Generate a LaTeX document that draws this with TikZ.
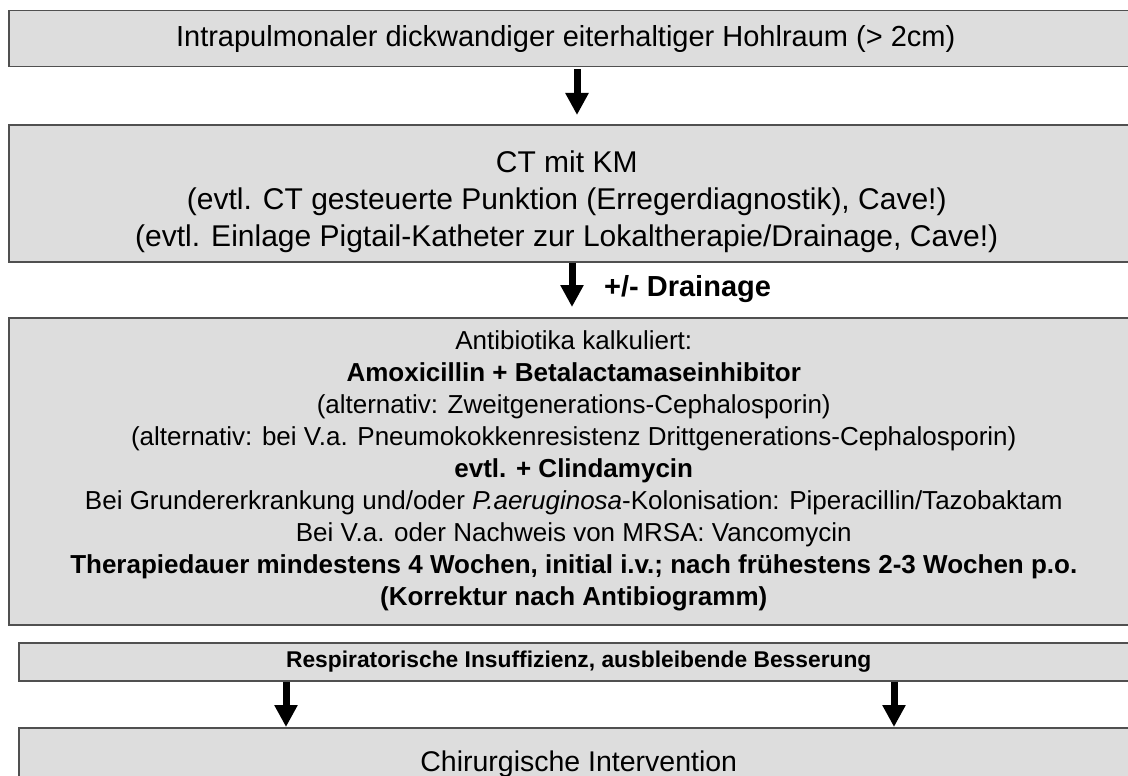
\documentclass[tikz,border=0pt]{standalone}
\usepackage{fontspec}
\setmainfont{Liberation Sans}
\usetikzlibrary{positioning,arrows.meta}
\definecolor{boxgray}{RGB}{221,221,221}
\definecolor{linegray}{RGB}{80,80,80}

\begin{document}
\begin{tikzpicture}[x=1pt,y=-1pt]
            \tikzstyle{box}=[draw=linegray,line width=1.5pt,fill=boxgray,anchor=north west,inner sep=0pt,align=center,minimum width=1130pt]
            \tikzstyle{txt}=[inner sep=0pt,align=center]
            \tikzstyle{arr}=[line width=7pt,-{Triangle[width=22pt,length=22pt]}]
            \useasboundingbox (0,0) rectangle (1128,776);
            \clip (0,0) rectangle (1128,776);

            \node[box,minimum height=56pt] (hohl) at (8,10) {};
            \node[txt,font=\fontsize{29}{34}\selectfont] (hohltext) at ([xshift=-8pt]hohl.center) {Intrapulmonaler dickwandiger eiterhaltiger Hohlraum (> 2cm)};
            \node[box,minimum height=137pt] (ct) at (8,124) {};
            \node[txt,font=\fontsize{30}{37}\selectfont] (cttext) at ([xshift=-7pt,yshift=-8pt]ct.center) {CT mit KM\\(evtl. CT gesteuerte Punktion (Erregerdiagnostik), Cave!)\\(evtl. Einlage Pigtail-Katheter zur Lokaltherapie/Drainage, Cave!)};
            \node[box,minimum height=307pt,font=\fontsize{26}{32}\selectfont] (ab) at (8,317) {Antibiotika kalkuliert:\\
                \textbf{Amoxicillin + Betalactamaseinhibitor}\\
                (alternativ: Zweitgenerations-Cephalosporin)\\
                (alternativ: bei V.a. Pneumokokkenresistenz Drittgenerations-Cephalosporin)\\
                \textbf{evtl. + Clindamycin}\\
                Bei Grundererkrankung und/oder \textit{P.aeruginosa}-Kolonisation: Piperacillin/Tazobaktam\\
                Bei V.a. oder Nachweis von MRSA: Vancomycin\\
                \textbf{Therapiedauer mindestens 4 Wochen, initial i.v.; nach frühestens 2-3 Wochen p.o.}\\
                \textbf{(Korrektur nach Antibiogramm)}};
            \node[box,minimum width=1120pt,minimum height=38pt,font=\fontsize{22.8}{26}\selectfont\bfseries] (resp) at (18,642) {Respiratorische Insuffizienz, ausbleibende Besserung};
            \node[box,minimum width=1120pt,minimum height=77pt] (chir) at (18,727) {};
            \node[txt,font=\fontsize{28.5}{33}\selectfont,anchor=north] (chirtext) at ([yshift=-24pt]chir.north) {Chirurgische Intervention};

            % Pfeile
            \coordinate (p1) at (577,0);
            \coordinate (p2) at (572,0);
            \coordinate (p3) at (286,0);
            \coordinate (p4) at (894,0);
            \draw[arr] ([yshift=-2pt]hohl.south -| p1) -- ([yshift=9pt]ct.north -| p1);
            \draw[arr] (ct.south -| p2) -- ([yshift=10pt]ab.north -| p2);
            \node[anchor=west,inner sep=0pt,font=\fontsize{29}{32}\selectfont\bfseries] (drain) at (604,289) {+/- Drainage};
            \draw[arr] (resp.south -| p3) -- (chir.north -| p3);
            \draw[arr] (resp.south -| p4) -- (chir.north -| p4);
        \end{tikzpicture}
\end{document}
